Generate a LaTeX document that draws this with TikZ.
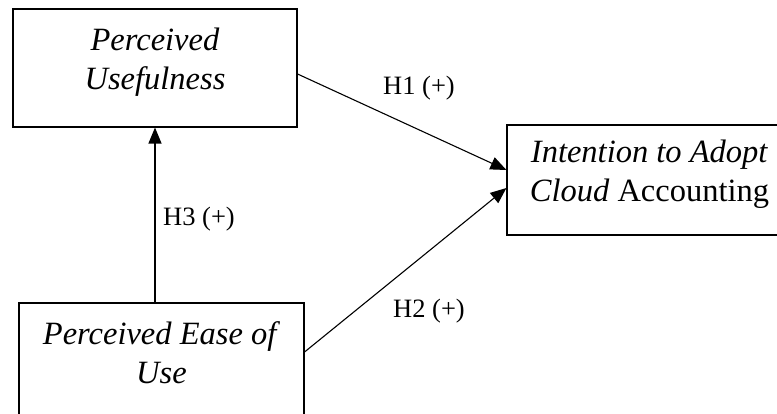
\documentclass[tikz,border=0pt]{standalone}
\usepackage{fontspec}
\setmainfont{Liberation Serif}
\usetikzlibrary{arrows.meta}

\tikzset{
  box/.style={draw, line width=1.1pt, rectangle, align=center, inner sep=0pt,
    minimum width=285pt, minimum height=118pt, text height=43pt, text depth=0pt,
    font=\fontsize{32.5}{39}\selectfont},
  hyp/.style={anchor=base west, inner sep=0pt, font=\fontsize{26.5}{30}\selectfont},
  link/.style={line width=1.1pt, -{Triangle[length=16pt,width=13pt]}}
}

\begin{document}
\begin{tikzpicture}[x=1pt,y=-1pt]
\useasboundingbox (0,0) rectangle (777,414);

\draw (155,68)    node (pu)   [box, minimum width=284pt] {\textit{Perceived}\\\textit{Usefulness}};
\draw (161.5,362) node (peou) [box] {\textit{Perceived Ease of}\\\textit{Use}};
\draw (649.5,180) node (ita)  [box, minimum height=110pt] {\textit{Intention to Adopt}\\\textit{Cloud} Accounting};

\draw (383,95)  node (h1) [hyp] {H1 (+)};
\draw (393,317) node (h2) [hyp] {H2 (+)};
\draw (163,226) node (h3) [hyp] {H3 (+)};

\draw [link] ([yshift=-6pt]pu.east) -- ([yshift=10pt]ita.west);
\draw [link] ([yshift=10pt]peou.east) -- ([yshift=-8pt]ita.west);
\draw [link] (peou.north -| pu.south) -- (pu.south);
\end{tikzpicture}
\end{document}
